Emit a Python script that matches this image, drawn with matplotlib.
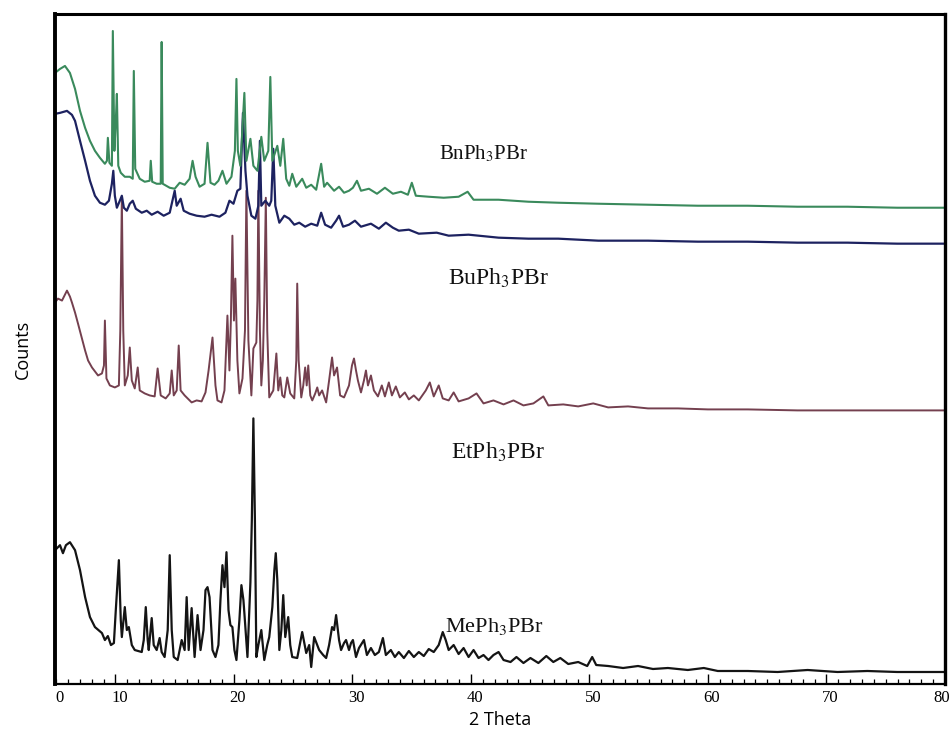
import matplotlib
matplotlib.use("Agg")
import matplotlib.pyplot as plt
from matplotlib.ticker import MultipleLocator, FixedLocator
import matplotlib.transforms as mtransforms

plt.rcParams['mathtext.fontset'] = 'stix'

# ---------------- data (2θ in degrees, intensity in arbitrary stacked units) ----------------
bn_theta = [4.90, 5.32, 5.74, 6.16, 6.59, 7.01, 7.44, 7.85, 8.27, 8.69, 9.11, 9.28, 9.36, 9.49, 9.70, 9.78,
            9.91, 10.03, 10.12, 10.24, 10.45, 10.79, 11.21, 11.46, 11.55, 11.67, 12.05, 12.47, 12.89, 12.98,
            13.10, 13.48, 13.82, 13.90, 13.99, 14.58, 15.00, 15.42, 15.84, 16.26, 16.51, 16.76, 17.10, 17.52,
            17.77, 18.02, 18.36, 18.69, 19.03, 19.37, 19.79, 20.08, 20.21, 20.33, 20.54, 20.88, 21.05, 21.39,
            21.64, 21.98, 22.31, 22.56, 22.90, 23.07, 23.24, 23.66, 23.91, 24.16, 24.41, 24.67, 24.92, 25.26,
            25.76, 26.10, 26.52, 26.94, 27.36, 27.61, 27.86, 28.45, 28.87, 29.29, 29.71, 30.04, 30.38, 30.72,
            31.39, 32.07, 32.74, 33.41, 34.09, 34.68, 35.01, 35.35, 36.44, 37.70, 38.96, 39.72, 40.22, 42.33,
            44.85, 47.37, 50.74, 54.94, 59.15, 63.36, 67.56, 71.77, 75.97, 80.00]
bn_counts = [612, 616, 619, 612, 596, 574, 557, 544, 534, 527, 521, 524, 547, 522, 519, 654,
             534, 564, 591, 519, 512, 508, 508, 506, 614, 516, 506, 503, 504, 524,
             503, 501, 501, 643, 501, 497, 496, 502, 500, 506, 524, 508, 498, 501,
             542, 502, 500, 504, 514, 501, 508, 534, 606, 534, 519, 592, 524, 546,
             519, 514, 548, 524, 534, 608, 524, 539, 519, 546, 506, 499, 511, 498,
             506, 497, 500, 495, 521, 498, 502, 494, 498, 492, 494, 497, 504, 494,
             496, 491, 497, 491, 493, 490, 502, 489, 488, 487, 488, 493, 485, 485,
             483, 482, 481, 480, 479, 479, 478, 478, 477, 477]

bu_theta = [4.90, 5.32, 5.91, 6.33, 6.59, 7.01, 7.44, 7.85, 8.27, 8.69, 9.11, 9.45, 9.70, 9.82, 9.95,
            10.12, 10.37, 10.54, 10.71, 10.96, 11.21, 11.46, 11.72, 12.22, 12.64, 13.06, 13.56, 14.07,
            14.58, 15.00, 15.17, 15.50, 15.76, 16.26, 16.85, 17.52, 18.11, 18.78, 19.28, 19.62, 19.96,
            20.29, 20.54, 20.76, 20.97, 21.14, 21.47, 21.81, 22.06, 22.19, 22.31, 22.65, 22.98, 23.15,
            23.32, 23.49, 23.83, 24.25, 24.67, 25.09, 25.51, 26.01, 26.52, 27.03, 27.36, 27.69, 28.20,
            28.62, 28.87, 29.21, 29.71, 30.21, 30.72, 31.56, 32.23, 32.82, 33.41, 33.91, 34.76, 35.60,
            37.11, 38.12, 39.80, 42.33, 44.85, 47.37, 50.74, 54.94, 59.15, 63.36, 67.56, 71.77, 75.97, 80.00]
bu_counts = [571, 572, 574, 570, 564, 544, 524, 504, 489, 482, 480, 484, 501, 514, 489,
             477, 484, 489, 477, 474, 481, 484, 476, 472, 474, 470, 473, 469,
             472, 494, 479, 486, 474, 471, 469, 468, 470, 468, 472, 484, 481,
             494, 496, 572, 514, 489, 469, 466, 479, 544, 479, 484, 479, 484,
             536, 479, 462, 469, 466, 460, 462, 458, 461, 459, 472, 460, 457,
             464, 469, 458, 460, 464, 458, 461, 456, 462, 457, 454, 455, 451,
             452, 449, 450, 447, 446, 446, 444, 444, 443, 443, 442, 442, 441, 441]

et_theta = [4.90, 5.15, 5.49, 5.91, 6.16, 6.33, 6.59, 6.84, 7.17, 7.44, 7.69, 8.02, 8.53, 8.86, 9.03, 9.11,
            9.24, 9.53, 9.95, 10.29, 10.41, 10.54, 10.66, 10.79, 11.04, 11.21, 11.38, 11.63, 11.88, 12.05,
            12.47, 12.89, 13.31, 13.56, 13.82, 14.24, 14.58, 14.75, 14.92, 15.17, 15.34, 15.50, 15.84,
            16.09, 16.43, 16.85, 17.27, 17.60, 17.86, 18.19, 18.44, 18.61, 18.95, 19.20, 19.45, 19.62,
            19.74, 19.87, 20.00, 20.12, 20.29, 20.46, 20.72, 20.93, 21.05, 21.22, 21.47, 21.64, 21.89,
            21.98, 22.06, 22.19, 22.31, 22.44, 22.56, 22.69, 22.81, 22.98, 23.32, 23.58, 23.74, 23.91,
            24.08, 24.25, 24.50, 24.75, 25.09, 25.26, 25.34, 25.46, 25.68, 25.85, 26.01, 26.14, 26.27,
            26.44, 26.61, 26.86, 27.03, 27.19, 27.44, 27.78, 28.03, 28.28, 28.45, 28.70, 28.96, 29.29,
            29.71, 29.96, 30.13, 30.30, 30.46, 30.72, 30.97, 31.14, 31.31, 31.56, 31.81, 32.15, 32.48,
            32.74, 33.07, 33.33, 33.66, 34.00, 34.42, 34.76, 35.18, 35.60, 36.19, 36.53, 36.86, 37.28,
            37.62, 38.12, 38.54, 38.96, 39.80, 40.47, 41.06, 41.90, 42.75, 43.59, 44.43, 45.27, 46.11,
            46.53, 47.79, 49.05, 50.32, 51.58, 53.26, 54.94, 57.47, 59.99, 63.36, 67.56, 71.77, 75.97, 80.00]
et_counts = [382, 386, 384, 394, 388, 382, 372, 361, 346, 334, 324, 317, 309, 311, 319, 364,
             306, 299, 297, 299, 354, 487, 354, 299, 309, 337, 304, 296, 317, 294,
             291, 289, 288, 316, 289, 286, 291, 314, 289, 294, 339, 294, 289,
             286, 282, 284, 283, 292, 314, 347, 299, 284, 282, 294, 369, 314,
             364, 449, 364, 406, 324, 291, 306, 354, 494, 344, 289, 336, 342,
             384, 494, 354, 299, 324, 384, 487, 354, 287, 294, 331, 294, 307,
             289, 287, 307, 291, 286, 324, 401, 324, 287, 299, 317, 299, 319,
             289, 284, 291, 297, 289, 294, 282, 304, 327, 309, 317, 289, 287,
             299, 319, 326, 314, 304, 292, 304, 314, 299, 309, 294, 288, 299,
             288, 302, 289, 298, 287, 292, 285, 289, 284, 294, 302, 288, 299,
             286, 284, 292, 283, 286, 291, 281, 284, 280, 284, 279, 281, 288,
             279, 280, 278, 281, 277, 278, 276, 276, 275, 275, 274, 274, 274, 274]

me_theta = [4.90, 5.32, 5.57, 5.82, 6.16, 6.59, 7.01, 7.44, 7.85, 8.27, 8.86, 9.11, 9.36, 9.62, 9.87,
            10.03, 10.29, 10.45, 10.54, 10.79, 10.96, 11.13, 11.38, 11.63, 12.22, 12.39, 12.56, 12.72,
            12.81, 13.06, 13.23, 13.48, 13.73, 13.90, 14.15, 14.41, 14.58, 14.75, 14.92, 15.25, 15.59,
            15.84, 16.01, 16.18, 16.43, 16.68, 16.93, 17.18, 17.43, 17.60, 17.77, 17.94, 18.19, 18.44,
            18.69, 18.86, 19.03, 19.20, 19.37, 19.54, 19.70, 19.87, 20.04, 20.21, 20.46, 20.63, 20.80,
            20.88, 21.14, 21.30, 21.39, 21.51, 21.64, 21.77, 21.89, 22.06, 22.31, 22.56, 22.81, 22.98,
            23.24, 23.41, 23.53, 23.66, 23.83, 24.00, 24.16, 24.33, 24.58, 24.75, 24.92, 25.34, 25.76,
            26.10, 26.35, 26.52, 26.77, 27.03, 27.19, 27.53, 27.78, 28.03, 28.28, 28.45, 28.62, 28.87,
            29.04, 29.29, 29.46, 29.71, 29.88, 30.04, 30.30, 30.55, 30.97, 31.22, 31.56, 31.89, 32.23,
            32.57, 32.82, 33.24, 33.58, 33.91, 34.34, 34.76, 35.18, 35.60, 36.02, 36.44, 36.86, 37.28,
            37.62, 37.87, 38.12, 38.54, 38.96, 39.38, 39.80, 40.22, 40.64, 41.06, 41.48, 41.90, 42.33,
            42.75, 43.34, 43.84, 44.43, 45.02, 45.69, 46.36, 46.95, 47.54, 48.21, 49.05, 49.81, 50.23,
            50.57, 51.58, 52.84, 54.10, 55.36, 56.62, 58.30, 59.65, 60.83, 63.36, 65.88, 68.41, 70.93,
            73.45, 75.97, 80.00]
me_counts = [134, 139, 131, 139, 142, 134, 114, 87, 67, 57, 51, 44, 48, 39, 41,
             74, 124, 64, 47, 77, 54, 57, 39, 34, 32, 44, 77, 44,
             34, 66, 39, 34, 46, 32, 27, 54, 129, 54, 27, 24, 44,
             34, 87, 34, 76, 27, 69, 34, 54, 94, 97, 87, 34, 27,
             39, 84, 119, 97, 132, 74, 59, 57, 34, 24, 64, 99, 84,
             71, 27, 74, 102, 164, 266, 164, 27, 39, 54, 24, 39, 47,
             77, 114, 131, 104, 34, 54, 89, 47, 67, 39, 27, 26, 52,
             31, 39, 17, 47, 39, 34, 29, 26, 39, 57, 54, 69, 44,
             34, 41, 44, 34, 41, 44, 27, 36, 44, 29, 36, 29, 32,
             46, 29, 34, 27, 32, 26, 33, 27, 32, 28, 35, 32, 39,
             52, 44, 34, 39, 30, 36, 27, 34, 26, 29, 24, 29, 32,
             24, 22, 27, 21, 26, 21, 28, 22, 26, 20, 22, 18, 27,
             19, 18, 16, 18, 15, 16, 14, 16, 13, 13, 12, 14, 12,
             13, 12, 12]

series_names = ["BnPh$_3$PBr", "BuPh$_3$PBr", "EtPh$_3$PBr", "MePh$_3$PBr"]
label_x = [41.1, 42.3, 42.3, 42.0]
label_y = [531, 406, 232, 58]
label_size = [15, 17, 17, 16]

tick_values = [4.9, 10, 20, 30, 40, 50, 60, 70, 80]
tick_labels = ["0", "10", "20", "30", "40", "50", "60", "70", "80"]

# ---------------- figure ----------------
fig = plt.figure(figsize=(9.5, 7.42), dpi=100)
ax = fig.add_axes([0.0579, 0.0782, 0.9368, 0.9029])

ax.plot(me_theta, me_counts, color="#141414", lw=1.6)
ax.plot(et_theta, et_counts, color="#74404f", lw=1.4)
ax.plot(bu_theta, bu_counts, color="#1d2260", lw=1.6)
ax.plot(bn_theta, bn_counts, color="#3a8a5c", lw=1.5)

for name, lx, ly, fs in zip(series_names, label_x, label_y, label_size):
    ax.text(lx, ly, name, ha="center", va="center", fontsize=fs,
            family="Liberation Serif", color="#111111")

ax.set_xlim(4.9, 80)
ax.set_ylim(0, 671)
ax.xaxis.set_major_locator(FixedLocator(tick_values))
ax.set_xticklabels(tick_labels, family="Liberation Serif", fontsize=12)
ax.xaxis.set_minor_locator(MultipleLocator(1))
ax.tick_params(axis="x", which="major", direction="in", length=7.5, width=1.0, pad=4)
ax.tick_params(axis="x", which="minor", direction="in", length=3.8, width=0.9)
ax.set_yticks([])
labels = ax.get_xticklabels()
for i, lab in enumerate(labels):
    dx = 4 if i < len(labels) - 1 else -3
    off = mtransforms.ScaledTranslation(dx / 100, 0, fig.dpi_scale_trans)
    lab.set_transform(lab.get_transform() + off)

for side, lw in [("left", 2.8), ("right", 2.4), ("top", 2.2), ("bottom", 1.6)]:
    ax.spines[side].set_linewidth(lw)
    ax.spines[side].set_color("black")

ax.set_xlabel("2 Theta", family="Open Sans", fontsize=13, labelpad=4)
ax.set_ylabel("Counts", family="Open Sans", fontsize=13, labelpad=17)

fig.savefig("out.png", dpi=100)
